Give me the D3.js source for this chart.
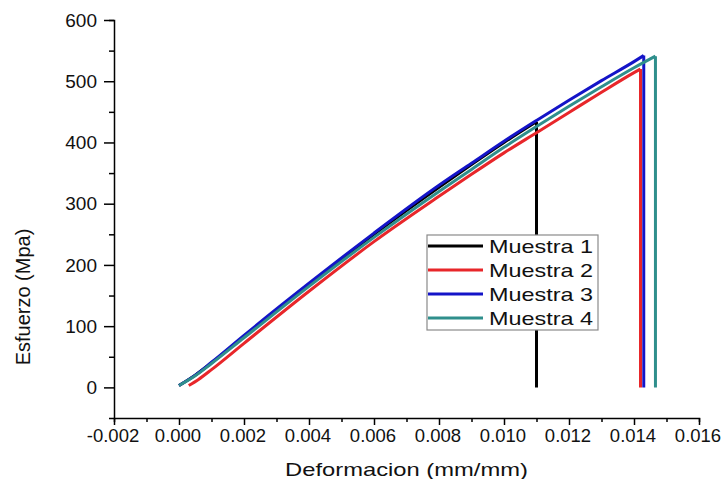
<!DOCTYPE html>
<html>
<head>
<meta charset="utf-8">
<script src="https://cdn.jsdelivr.net/npm/d3@7"></script>
<style>
  html, body { margin: 0; padding: 0; background: #fff; }
  svg { display: block; font-family: "Liberation Sans", Arial, sans-serif; }
</style>
</head>
<body>
<svg id="chart" width="724" height="479"></svg>
<script>
// Stress-strain curves for four specimens (strain in mm/mm, stress in MPa)
const seriesNames = ["Muestra 1", "Muestra 2", "Muestra 3", "Muestra 4"];
const seriesColors = ["#000000", "#e8262a", "#1414c8", "#2f8f8c"];

const strain1 = [0, 0.0005, 0.001, 0.002, 0.004, 0.006, 0.008, 0.009, 0.010, 0.0110, 0.0110];
const stress1 = [3, 20, 40, 83, 168, 250, 327, 364, 400, 434, 0];

const strain2 = [0.0003, 0.0006, 0.001, 0.002, 0.004, 0.006, 0.008, 0.009, 0.010, 0.011, 0.012, 0.013, 0.014, 0.0142, 0.0142];
const stress2 = [3, 13, 29, 72, 157, 238, 312, 348, 383, 416, 449, 482, 514, 520, 0];

const strain3 = [0, 0.0005, 0.001, 0.002, 0.004, 0.006, 0.008, 0.009, 0.010, 0.011, 0.012, 0.013, 0.014, 0.0143, 0.0143];
const stress3 = [3, 20, 41, 85, 170, 252, 330, 366, 402, 436, 469, 501, 532, 542, 0];

const strain4 = [0, 0.0005, 0.001, 0.002, 0.004, 0.006, 0.008, 0.009, 0.010, 0.011, 0.012, 0.013, 0.014, 0.01466, 0.01466];
const stress4 = [3, 19, 39, 81, 165, 245, 320, 356, 392, 426, 459, 491, 522, 541, 0];

const xTicks = [-0.002, 0, 0.002, 0.004, 0.006, 0.008, 0.010, 0.012, 0.014, 0.016];
const yTicks = [0, 100, 200, 300, 400, 500, 600];

const xTitle = "Deformacion (mm/mm)";
const yTitle = "Esfuerzo (Mpa)";

const strains = [strain1, strain2, strain3, strain4];
const stresses = [stress1, stress2, stress3, stress4];
const series = seriesNames.map((name, i) => ({
  name,
  color: seriesColors[i],
  points: strains[i].map((s, j) => [s, stresses[i][j]])
}));

const svg = d3.select("#chart");

const x = d3.scaleLinear().domain([-0.002, 0.016]).range([114, 699]);
const y = d3.scaleLinear().domain([-50, 600]).range([418, 20]);

// widen glyphs horizontally by factor k
function stretch(sel, k) {
  sel.each(function () {
    const w = this.getComputedTextLength();
    d3.select(this).attr("textLength", w * k).attr("lengthAdjust", "spacingAndGlyphs");
  });
}

// curves: smooth loading branch, then straight drop at fracture
const line = d3.line().x(d => x(d[0])).y(d => y(d[1])).curve(d3.curveMonotoneX);
const lineStraight = d3.line().x(d => x(d[0])).y(d => y(d[1]));

const g = svg.append("g");
series.forEach(s => {
  const rising = s.points.slice(0, -1);
  const drop = s.points.slice(-2);
  g.append("path")
    .attr("d", line(rising))
    .attr("fill", "none")
    .attr("stroke", s.color)
    .attr("stroke-width", 3)
    .attr("stroke-linejoin", "round");
  g.append("path")
    .attr("d", lineStraight(drop))
    .attr("fill", "none")
    .attr("stroke", s.color)
    .attr("stroke-width", 3);
});

// x axis
const xAxisG = svg.append("g").attr("transform", `translate(0,${y(-50)})`);
xAxisG.call(d3.axisBottom(x).tickValues(d3.range(-0.002, 0.0165, 0.001)).tickFormat("").tickSizeOuter(0).tickSize(4));
xAxisG.call(g2 => g2.selectAll(".tick").filter((d, i) => i % 2 === 0).select("line").attr("y2", 7));
xAxisG.selectAll("path.domain, line").attr("stroke", "#000").attr("stroke-width", 1.5);
xAxisG.selectAll(".tick text").remove();

svg.append("g").selectAll("text").data(xTicks).join("text")
  .attr("x", d => x(d) - 1)
  .attr("y", 442)
  .attr("text-anchor", "middle")
  .attr("font-size", 18.5)
  .attr("fill", "#111")
  .text(d => d3.format(".3f")(d).replace("−", "-"));

// y axis
const yAxisG = svg.append("g").attr("transform", `translate(${x(-0.002)},0)`);
yAxisG.call(d3.axisLeft(y).tickValues(d3.range(-50, 601, 50)).tickFormat("").tickSizeOuter(0).tickSize(5));
yAxisG.call(g2 => g2.selectAll(".tick").filter(d => d % 100 === 0).select("line").attr("x2", -10));
yAxisG.selectAll(".tick").filter(d => d === -50).remove();
yAxisG.selectAll("path.domain, line").attr("stroke", "#000").attr("stroke-width", 1.5);

svg.append("g").selectAll("text").data(yTicks).join("text")
  .attr("x", 97)
  .attr("y", d => y(d))
  .attr("dy", "0.35em")
  .attr("text-anchor", "end")
  .attr("font-size", 19)
  .attr("fill", "#111")
  .text(d => d);

// axis titles
const xt = svg.append("text")
  .attr("x", (x.range()[0] + x.range()[1]) / 2)
  .attr("y", 476)
  .attr("text-anchor", "middle")
  .attr("font-size", 19)
  .attr("fill", "#111")
  .text(xTitle);
stretch(xt, 1.25);

svg.append("text")
  .attr("transform", "translate(30,297) rotate(-90)")
  .attr("text-anchor", "middle")
  .attr("font-size", 20)
  .attr("fill", "#111")
  .text(yTitle);

// legend
const leg = svg.append("g").attr("transform", "translate(427,235)");
leg.append("rect")
  .attr("width", 171).attr("height", 95)
  .attr("fill", "#fff").attr("stroke", "#8a8a8a").attr("stroke-width", 1.2);
const rows = leg.selectAll("g.row").data(series).join("g")
  .attr("class", "row")
  .attr("transform", (d, i) => `translate(0,${11 + i * 24})`);
rows.append("line")
  .attr("x1", 1).attr("x2", 56)
  .attr("stroke", d => d.color).attr("stroke-width", 3);
const lt = rows.append("text")
  .attr("x", 62).attr("dy", "0.36em")
  .attr("font-size", 19).attr("fill", "#111")
  .text(d => d.name);
stretch(lt, 1.23);
</script>
</body>
</html>
